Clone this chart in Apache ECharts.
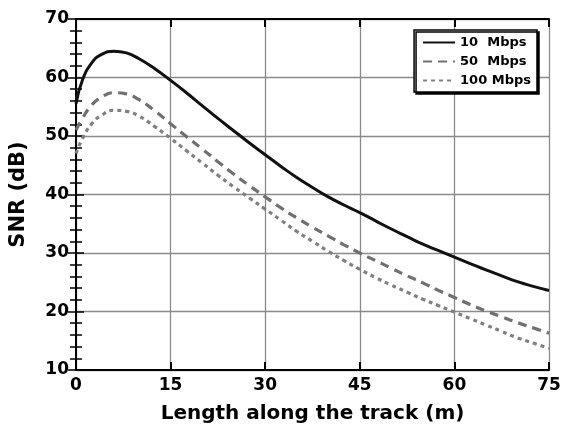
<!DOCTYPE html>
<html>
<head>
<meta charset="utf-8">
<script src="https://cdn.jsdelivr.net/npm/echarts@6/dist/echarts.min.js"></script>
<style>
html, body { margin: 0; padding: 0; background: #fff; }
#echart { width: 569px; height: 432px; }
</style>
</head>
<body>
<div id="echart"></div>
<script>
// distance along the track (m)
var lengths = [0, 1, 2.5, 4, 6, 8, 10, 12.5, 15, 17.5, 20, 22.5, 25, 27.5, 30, 32.5, 35, 37.5, 40, 42.5, 45, 47.5, 50, 52.5, 55, 57.5, 60, 62.5, 65, 67.5, 70, 72.5, 75];
// SNR in dB for each rate
var snr10 = [55.5, 59.5, 62.5, 63.9, 64.5, 64.2, 63.2, 61.5, 59.5, 57.4, 55.2, 53.0, 50.9, 48.8, 46.8, 44.8, 42.9, 41.2, 39.6, 38.2, 36.9, 35.5, 34.1, 32.8, 31.5, 30.4, 29.3, 28.2, 27.1, 26.1, 25.1, 24.3, 23.6];
var snr50 = [51, 53, 55.3, 56.6, 57.4, 57.2, 56.2, 54.3, 52.1, 49.9, 47.8, 45.6, 43.5, 41.5, 39.6, 37.7, 36, 34.4, 32.9, 31.4, 30, 28.7, 27.4, 26.1, 24.9, 23.6, 22.4, 21.2, 20.1, 19.1, 18.1, 17.2, 16.3];
var snr100 = [47, 49.5, 52.1, 53.5, 54.4, 54.2, 53.4, 51.6, 49.6, 47.5, 45.4, 43.3, 41.3, 39.4, 37.5, 35.6, 33.7, 32.0, 30.3, 28.7, 27.2, 25.8, 24.5, 23.3, 22.1, 21.0, 19.9, 18.8, 17.7, 16.6, 15.5, 14.6, 13.7];
var seriesNames = ['10  Mbps', '50  Mbps', '100 Mbps'];

function pairs(ys) {
	var out = [];
	for (var i = 0; i < lengths.length; i++) out.push([lengths[i], ys[i]]);
	return out;
}

var font = 'DejaVu Sans, Liberation Sans, sans-serif';
var echart = echarts.init(document.getElementById('echart'));
echart.setOption({
	animation: false,
	grid: { left: 73, right: 20, top: 19, bottom: 62, containLabel: false },
	legend: {
		right: 32, top: 30,
		orient: 'vertical',
		itemWidth: 32, itemHeight: 10, itemGap: 6,
		padding: [6, 6, 5, 8],
		borderColor: '#000', borderWidth: 1.5, borderRadius: 0,
		backgroundColor: '#fff',
		shadowColor: '#000', shadowBlur: 0, shadowOffsetX: 2, shadowOffsetY: 2,
		itemStyle: { opacity: 0 },
		textStyle: { fontFamily: font, fontWeight: 'bold', fontSize: 13, color: '#000' },
		data: seriesNames
	},
	xAxis: [{
		type: 'value', min: 0, max: 75, interval: 15,
		name: 'Length along the track (m)', nameLocation: 'middle', nameGap: 34,
		nameTextStyle: { fontFamily: font, fontWeight: 'bold', fontSize: 20, color: '#000' },
		axisLine: { lineStyle: { color: '#000', width: 2 } },
		axisTick: { inside: true, length: 8, lineStyle: { color: '#000', width: 2 } },
		axisLabel: { fontFamily: font, fontWeight: 'bold', fontSize: 17, color: '#000', margin: 7 },
		splitLine: { show: true, lineStyle: { color: '#8a8a8a', width: 1.3 } }
	}, {
		type: 'value', min: 0, max: 75, interval: 15, position: 'top',
		axisLine: { lineStyle: { color: '#000', width: 2 } },
		axisTick: { inside: true, length: 8, lineStyle: { color: '#000', width: 2 } },
		axisLabel: { show: false },
		splitLine: { show: false }
	}],
	yAxis: [{
		type: 'value', min: 10, max: 70, interval: 10,
		name: 'SNR (dB)', nameLocation: 'middle', nameGap: 47, nameRotate: 90,
		nameTextStyle: { fontFamily: font, fontWeight: 'bold', fontSize: 21, color: '#000' },
		axisLine: { show: true, lineStyle: { color: '#000', width: 2 } },
		axisTick: { inside: true, length: 8, lineStyle: { color: '#000', width: 1.5 } },
		minorTick: { show: true, splitNumber: 5, length: 6, lineStyle: { color: '#000', width: 1.5 } },
		axisLabel: { fontFamily: font, fontWeight: 'bold', fontSize: 17, color: '#000', margin: 7 },
		splitLine: { show: true, lineStyle: { color: '#8a8a8a', width: 1.3 } }
	}, {
		type: 'value', min: 10, max: 70, interval: 10, position: 'right',
		axisLine: { show: true, lineStyle: { color: '#000', width: 2 } },
		axisTick: { inside: true, length: 8, lineStyle: { color: '#000', width: 1.5 } },
		minorTick: { show: true, splitNumber: 5, length: 6, lineStyle: { color: '#000', width: 1.5 } },
		axisLabel: { show: false },
		splitLine: { show: false }
	}],
	series: [
		{
			name: seriesNames[0], type: 'line', smooth: 0.5, symbol: 'none',
			data: pairs(snr10),
			lineStyle: { color: '#111', width: 3 }, itemStyle: { color: '#111' }
		},
		{
			name: seriesNames[1], type: 'line', smooth: 0.5, symbol: 'none',
			data: pairs(snr50),
			lineStyle: { color: '#707070', width: 3.2, type: [9, 6] }, itemStyle: { color: '#707070' }
		},
		{
			name: seriesNames[2], type: 'line', smooth: 0.5, symbol: 'none',
			data: pairs(snr100),
			lineStyle: { color: '#808080', width: 3.2, type: [4, 4] }, itemStyle: { color: '#808080' }
		}
	]
});
</script>
</body>
</html>
